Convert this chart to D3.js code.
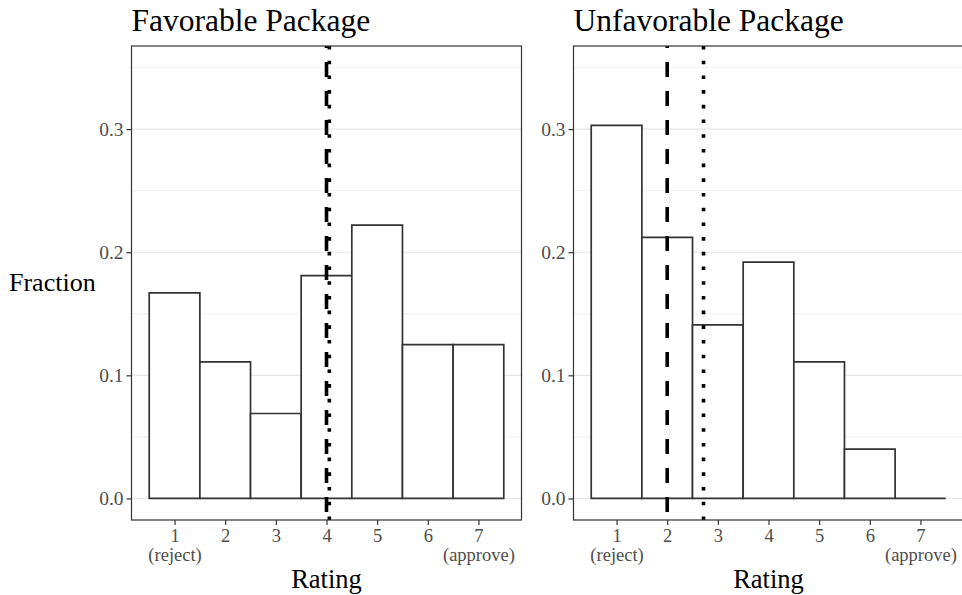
<!DOCTYPE html>
<html lang="en">
<head>
<meta charset="utf-8">
<title>Rating histograms</title>
<script src="https://d3js.org/d3.v7.min.js"></script>
<style>
  body { margin: 0; background: #fff; }
  svg { font-family: "Liberation Serif", serif; display: block; }
</style>
</head>
<body>
<svg id="chart"></svg>
<script>
// data
const ratings = [1, 2, 3, 4, 5, 6, 7];
const tickLabels = ["1\n(reject)", "2", "3", "4", "5", "6", "7\n(approve)"];
const favorableFraction = [0.167, 0.111, 0.069, 0.181, 0.222, 0.125, 0.125];
const unfavorableFraction = [0.303, 0.212, 0.141, 0.192, 0.111, 0.040, 0.0];
const panelTitles = ["Favorable Package", "Unfavorable Package"];
const medians = [4, 2];
const means = [4.056, 2.717];
const yTicks = [0.0, 0.1, 0.2, 0.3];
const yMinor = [0.05, 0.15, 0.25, 0.35];

const width = 962, height = 595;
const serif = "Liberation Serif, serif";
const svg = d3.select("#chart").attr("width", width).attr("height", height);

const panels = [
  { title: panelTitles[0], values: favorableFraction, left: 131.5, median: medians[0], mean: means[0] },
  { title: panelTitles[1], values: unfavorableFraction, left: 573.5, median: medians[1], mean: means[1] }
];
const panelW = 390, panelTop = 46, panelBottom = 520;

const y = d3.scaleLinear().domain([-0.0175, 0.3675]).range([panelBottom, panelTop]);

panels.forEach((p, pi) => {
  const x = d3.scaleLinear().domain([0.15, 7.85]).range([p.left, p.left + panelW]);
  const g = svg.append("g");

  // grid
  g.selectAll(".minor").data(yMinor).enter().append("line")
    .attr("x1", p.left).attr("x2", p.left + panelW)
    .attr("y1", d => y(d)).attr("y2", d => y(d))
    .attr("stroke", "#efefef").attr("stroke-width", 0.8);
  g.selectAll(".major").data(yTicks).enter().append("line")
    .attr("x1", p.left).attr("x2", p.left + panelW)
    .attr("y1", d => y(d)).attr("y2", d => y(d))
    .attr("stroke", "#e6e6e6").attr("stroke-width", 1.1);

  // bars
  g.selectAll(".bar").data(p.values).enter().append("path")
    .attr("d", (d, i) => {
      const x0 = x(ratings[i] - 0.5), x1 = x(ratings[i] + 0.5);
      return `M${x0},${y(0)}V${y(d)}H${x1}V${y(0)}Z`;
    })
    .attr("fill", "#fff").attr("stroke", "#333").attr("stroke-width", 1.7);

  // median (dashed) and mean (dotted)
  g.append("line")
    .attr("x1", x(p.median)).attr("x2", x(p.median))
    .attr("y1", panelTop).attr("y2", panelBottom)
    .attr("stroke", "#000").attr("stroke-width", 3.6)
    .attr("stroke-dasharray", "15 14").attr("stroke-dashoffset", 13);
  g.append("line")
    .attr("x1", x(p.mean)).attr("x2", x(p.mean))
    .attr("y1", panelTop).attr("y2", panelBottom)
    .attr("stroke", "#000").attr("stroke-width", 3.6)
    .attr("stroke-dasharray", "3.6 11.1");

  // panel border
  g.append("rect")
    .attr("x", p.left).attr("y", panelTop)
    .attr("width", panelW).attr("height", panelBottom - panelTop)
    .attr("fill", "none").attr("stroke", "#333").attr("stroke-width", 1.2);

  // y axis
  const yAxis = d3.axisLeft(y).tickValues(yTicks).tickFormat(d3.format(".1f"))
    .tickSize(5).tickPadding(3);
  const ya = g.append("g").attr("transform", `translate(${p.left},0)`).call(yAxis)
    .attr("font-family", serif);
  ya.select(".domain").remove();
  ya.selectAll("line").attr("stroke", "#333").attr("stroke-width", 1.2);
  ya.selectAll("text").attr("font-size", 19.5).attr("fill", "#4d4d4d");

  // x axis
  const xAxis = d3.axisBottom(x).tickValues(ratings).tickFormat("").tickSize(5);
  const xa = g.append("g").attr("transform", `translate(0,${panelBottom})`).call(xAxis)
    .attr("font-family", serif);
  xa.select(".domain").remove();
  xa.selectAll("line").attr("stroke", "#333").attr("stroke-width", 1.2);
  xa.selectAll("text").remove();
  xa.selectAll(".tick").each(function(d, i) {
    const lines = tickLabels[i].split("\n");
    lines.forEach((s, k) => {
      d3.select(this).append("text")
        .attr("text-anchor", "middle").attr("font-size", 18.5).attr("fill", "#4d4d4d")
        .attr("x", 0).attr("y", 21.5 + k * 19).text(s);
    });
  });

  // titles
  g.append("text").attr("x", p.left).attr("y", 31)
    .attr("font-size", 31.5).attr("fill", "#000").text(p.title);
  g.append("text").attr("x", p.left + panelW / 2).attr("y", 588)
    .attr("text-anchor", "middle").attr("font-size", 26.5).attr("fill", "#000").text("Rating");
});

svg.append("text").attr("x", 9).attr("y", 291)
  .attr("font-size", 26).attr("fill", "#000").text("Fraction");
</script>
</body>
</html>
